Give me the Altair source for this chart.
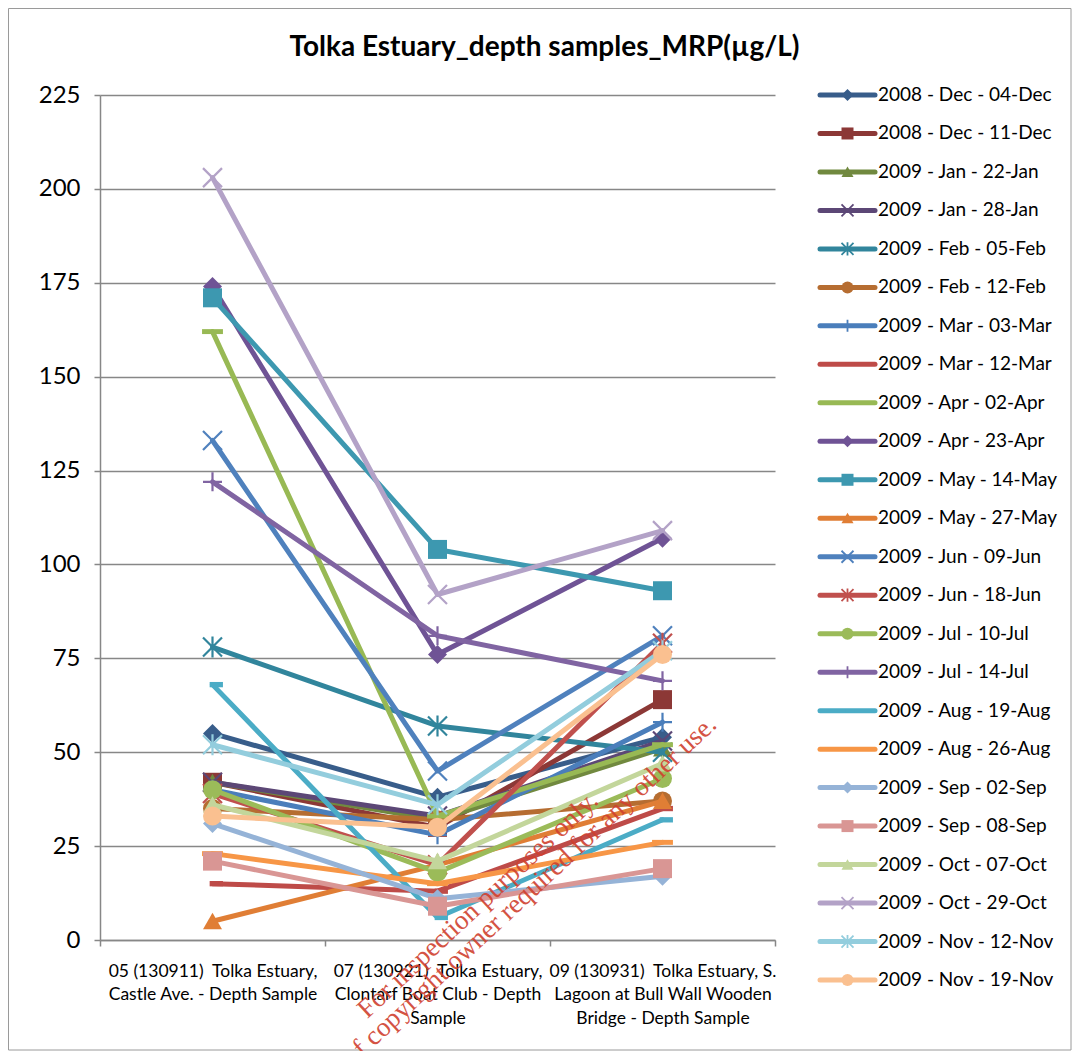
import altair as alt
import pandas as pd

categories = [
    "05 (130911)\u00a0 Tolka Estuary,\nCastle Ave. - Depth Sample",
    "07 (130921)\u00a0 Tolka Estuary,\nClontarf Boat Club - Depth\nSample",
    "09 (130931)\u00a0 Tolka Estuary, S.\nLagoon at Bull Wall Wooden\nBridge - Depth Sample",
]
series = [
    "2008 - Dec - 04-Dec", "2008 - Dec - 11-Dec", "2009 - Jan - 22-Jan", "2009 - Jan - 28-Jan",
    "2009 - Feb - 05-Feb", "2009 - Feb - 12-Feb", "2009 - Mar - 03-Mar", "2009 - Mar - 12-Mar",
    "2009 - Apr - 02-Apr", "2009 - Apr - 23-Apr", "2009 - May - 14-May", "2009 - May - 27-May",
    "2009 - Jun - 09-Jun", "2009 - Jun - 18-Jun", "2009 - Jul - 10-Jul", "2009 - Jul - 14-Jul",
    "2009 - Aug - 19-Aug", "2009 - Aug - 26-Aug", "2009 - Sep - 02-Sep", "2009 - Sep - 08-Sep",
    "2009 - Oct - 07-Oct", "2009 - Oct - 29-Oct", "2009 - Nov - 12-Nov", "2009 - Nov - 19-Nov",
]
site05 = [55, 42, 42, 42, 78, 35, 40, 15, 162, 174, 171, 5, 133, 39, 40, 122, 68, 23, 31, 21, 36, 203, 52, 33]
site07 = [38, 30, 32, 33, 57, 32, 28, 13, 33, 76, 104, 20, 45, 20, 18, 81, 6, 15, 11, 9, 21, 92, 36, 30]
site09 = [54, 64, 51, 53, 50, 37, 58, 35, 52, 107, 93, 37, 81, 79, 43, 69, 32, 26, 17, 19, 47, 109, 77, 76]

title_text = "Tolka Estuary_depth samples_MRP(µg/L)"
watermark = ["For inspection purposes only.", "Consent of copyright owner required for any other use."]

# styles
colors = [
    "#385D8A", "#8C3836", "#71893F", "#5C4776", "#31859C", "#B66D31",
    "#4A7EBB", "#BE4B48", "#98B954", "#6F5395", "#3D98B0", "#E07E35",
    "#4F81BD", "#C0504D", "#9BBB59", "#8064A2", "#4BACC6", "#F79646",
    "#95B3D7", "#D99694", "#C3D69B", "#B3A2C7", "#93CDDD", "#FAC090",
]
marker_cycle = ["diamond", "square", "triangle", "x", "star", "circle", "plus", "dash", "longdash"]
SHAPES = {
    "diamond": ("M0,-1L1,0L0,1L-1,0Z", True),
    "square": ("M-1,-1L1,-1L1,1L-1,1Z", True),
    "triangle": ("M0,-0.9L1,0.85L-1,0.85Z", True),
    "x": ("M-1,-1L1,1M-1,1L1,-1", False),
    "star": ("M-1,-1L1,1M-1,1L1,-1M0,-1.1L0,1.1", False),
    "circle": ("circle", True),
    "plus": ("M-1,0L1,0M0,-1L0,1", False),
    "dash": ("M-0.3,-0.28L1.1,-0.28L1.1,0.28L-0.3,0.28Z", True),
    "longdash": ("M-1.1,-0.26L1.1,-0.26L1.1,0.26L-1.1,0.26Z", True),
}
markers = [marker_cycle[i % len(marker_cycle)] for i in range(len(series))]
GRAY = "#878787"
FONT = "Lato"

rows = []
for i, s in enumerate(series):
    for cat, vals in zip(categories, [site05, site07, site09]):
        rows.append({"series": s, "idx": i, "site": cat, "value": vals[i]})
df = pd.DataFrame(rows)
df_leg = pd.DataFrame({"series": series, "idx": list(range(len(series)))})

X = alt.X(
    "site:N",
    scale=alt.Scale(type="band", domain=categories, paddingInner=0, paddingOuter=0),
    axis=alt.Axis(
        labelExpr="split(datum.label, '\\n')", labelFontSize=17.5, labelLineHeight=23.5,
        labelPadding=16, labelLimit=400, labelAngle=0, labelOverlap=False,
        labelBaseline="top", tickBand="extent", tickSize=6, tickColor=GRAY, tickWidth=1.5,
        domainColor=GRAY, domainWidth=1.5, grid=False,
    ),
    title=None,
)
Y = alt.Y(
    "value:Q",
    scale=alt.Scale(domain=[0, 225], nice=False),
    axis=alt.Axis(
        values=list(range(0, 226, 25)), grid=True, gridColor=GRAY, gridWidth=1.5,
        domainColor=GRAY, domainWidth=1.5, tickColor=GRAY, tickWidth=1.5, tickSize=6,
        labelFontSize=24, labelPadding=14,
    ),
    title=None,
)

frame = alt.Chart(pd.DataFrame({"k": [0]})).mark_rect(
    fill="transparent", stroke="#9A9A9A", strokeWidth=1
).encode(x=alt.value(-91.5), x2=alt.value(971), y=alt.value(-86.5), y2=alt.value(955))

main_layers = [frame]
for i, s in enumerate(series):
    base = alt.Chart(df).transform_filter(alt.datum.series == s)
    main_layers.append(
        base.mark_line(color=colors[i], strokeWidth=5, strokeJoin="round", strokeCap="round").encode(x=X, y=Y)
    )
    path, filled = SHAPES[markers[i]]
    if filled:
        pt = base.mark_point(filled=True, shape=path, size=361, color=colors[i], opacity=1, strokeWidth=0)
    else:
        pt = base.mark_point(filled=False, shape=path, size=361, color=colors[i], opacity=1, strokeWidth=2.2)
    main_layers.append(pt.encode(x=X, y=Y))

wm = alt.Chart(pd.DataFrame({"k": [0]})).mark_text(
    text=watermark, angle=317, font="Liberation Serif", fontSize=27, color="#D0412F",
    align="center", baseline="middle", lineHeight=25, opacity=0.9,
).encode(x=alt.value(378), y=alt.value(810))
main_layers.append(wm)

main = alt.layer(*main_layers)

LY = alt.Y("series:N", scale=alt.Scale(type="point", domain=series, range=[0, 885], padding=0), axis=None)
LC = alt.Color("series:N", scale=alt.Scale(domain=series, range=colors), legend=None)
LS = alt.Shape("series:N", scale=alt.Scale(domain=series, range=[SHAPES[m][0] for m in markers]), legend=None)
filled_series = [s for s, m in zip(series, markers) if SHAPES[m][1]]
open_series = [s for s, m in zip(series, markers) if not SHAPES[m][1]]

leg_line = alt.Chart().mark_rule(strokeWidth=5, strokeCap="round").encode(
    x=alt.value(720), x2=alt.value(775), y=LY, color=LC)
leg_fill = alt.Chart().transform_filter(alt.FieldOneOfPredicate(field="series", oneOf=filled_series)).mark_point(
    filled=True, size=144, opacity=1, strokeWidth=0).encode(x=alt.value(747.5), y=LY, color=LC, shape=LS)
leg_open = alt.Chart().transform_filter(alt.FieldOneOfPredicate(field="series", oneOf=open_series)).mark_point(
    filled=False, size=144, opacity=1, strokeWidth=1.8).encode(x=alt.value(747.5), y=LY, color=LC, shape=LS)
leg_text = alt.Chart().mark_text(align="left", baseline="middle", fontSize=19, font=FONT, color="black").encode(
    x=alt.value(778), y=LY, text="series:N")
legend = alt.layer(leg_line, leg_fill, leg_open, leg_text, data=df_leg)

chart = alt.layer(main, legend).resolve_scale(y="independent").properties(
    width=675, height=845,
    title=alt.TitleParams(title_text, fontSize=28, font=FONT, fontWeight="bold", anchor="middle",
                          frame="group", dx=107, offset=-54, color="black"),
    autosize=alt.AutoSizeParams(type="none"),
    padding={"left": 92, "top": 87, "right": 297, "bottom": 111},
).configure_view(strokeWidth=0).configure_axis(labelFont=FONT, labelColor="black")

chart.save("out.html", embed_options={"renderer": "svg", "actions": False})
